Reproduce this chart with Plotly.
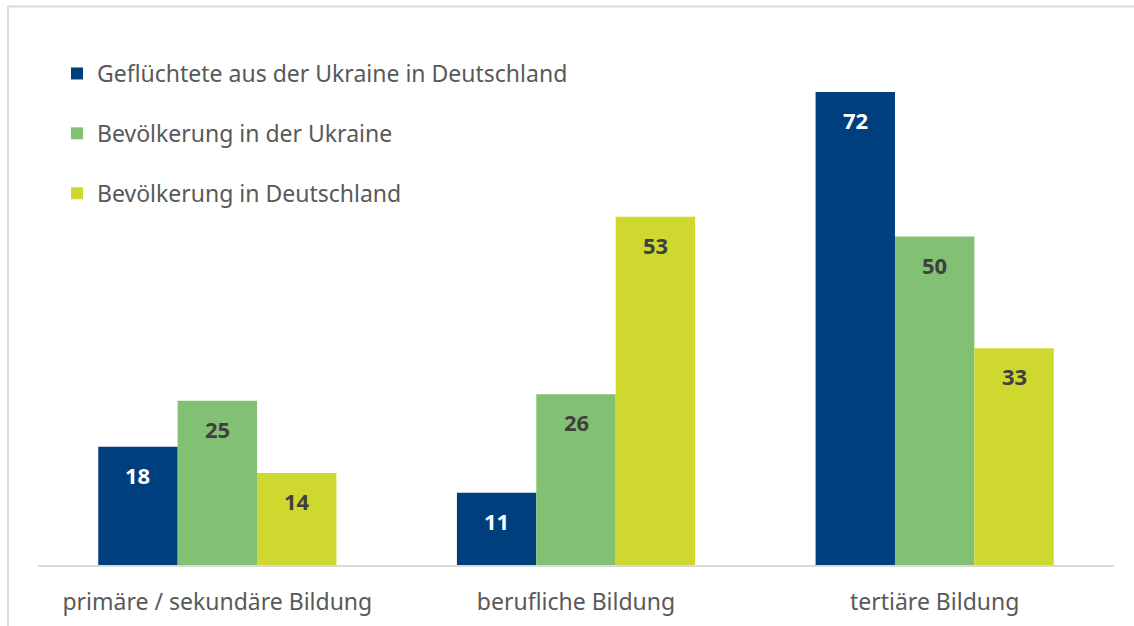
import plotly.graph_objects as go

categories = ["primäre / sekundäre Bildung", "berufliche Bildung", "tertiäre Bildung"]
series_names = [
    "Geflüchtete aus der Ukraine in Deutschland",
    "Bevölkerung in der Ukraine",
    "Bevölkerung in Deutschland",
]
gefluechtete = [18, 11, 72]
bev_ukraine = [25, 26, 50]
bev_deutschland = [14, 53, 33]

colors = ["#003F7D", "#82C173", "#CFD82F"]
label_colors = ["#FFFFFF", "#404040", "#404040"]
FONT = "'Noto Sans', 'Open Sans', sans-serif"

fig = go.Figure()
annotations = []
bar_px = 79.5
for i, (name, vals) in enumerate(zip(series_names, [gefluechtete, bev_ukraine, bev_deutschland])):
    fig.add_trace(go.Bar(
        x=categories, y=vals, name=name,
        marker=dict(color=colors[i], line=dict(width=0)),
        legendgroup=f"g{i}",
        hoverinfo="none",
    ))
    for c, v in zip(categories, vals):
        annotations.append(dict(
            x=c, y=v, xref="x", yref="y", text=f"<b>{v}</b>",
            showarrow=False, yanchor="top", yshift=-11, xshift=(i - 1) * bar_px,
            font=dict(size=22, color=label_colors[i], family=FONT),
        ))

fig.update_layout(
    width=1134, height=626,
    barmode="group", bargap=0.336, bargroupgap=0,
    plot_bgcolor="white", paper_bgcolor="white",
    margin=dict(l=37.5, r=19.5, t=30, b=61, autoexpand=False),
    font=dict(family=FONT, color="#595959"),
    showlegend=True,
    legend=dict(
        x=57 / 1134, y=1 - 52 / 626, xref="container", yref="container",
        xanchor="left", yanchor="top",
        font=dict(size=23, color="#595959", family=FONT),
        tracegroupgap=27, bgcolor="rgba(0,0,0,0)",
    ),
    annotations=annotations,
    shapes=[dict(
        type="rect", xref="paper", yref="paper",
        x0=-0.0279, x1=1.2, y0=-0.3, y1=1.0439,
        line=dict(color="#D9D9D9", width=2), fillcolor="rgba(0,0,0,0)", layer="below",
    )],
)
fig.update_xaxes(
    showline=True, linecolor="#D9D9D9", linewidth=2,
    ticks="outside", ticklen=15, tickcolor="rgba(0,0,0,0)",
    tickfont=dict(size=23, color="#595959", family=FONT),
    showgrid=False, fixedrange=True,
)
fig.update_yaxes(
    range=[0, 81.45], visible=False, showgrid=False, zeroline=False, fixedrange=True,
)

fig.write_html("out.html", config=dict(displayModeBar=False),
               post_script="document.body.style.margin='0';")
